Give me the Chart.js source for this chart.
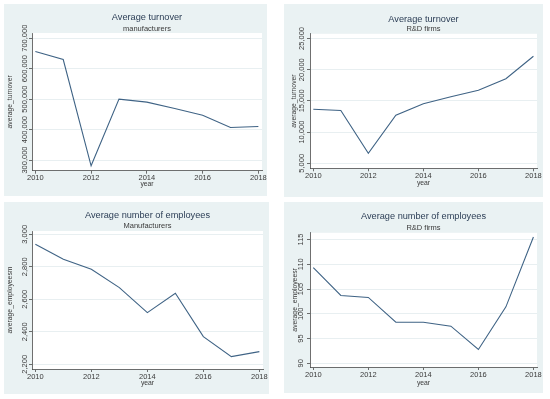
<!DOCTYPE html>
<html>
<head>
<meta charset="utf-8">
<script src="https://cdn.jsdelivr.net/npm/chart.js@4/dist/chart.umd.min.js"></script>
<style>
  body { margin: 0; background: #fff; }
  .panel { position: absolute; background: #eaf2f3; }
  .panel canvas { display: block; }
</style>
</head>
<body>
<div class="panel" id="panel1"><canvas id="turnoverManufChart"></canvas></div>
<div class="panel" id="panel2"><canvas id="turnoverRDChart"></canvas></div>
<div class="panel" id="panel3"><canvas id="employeesManufChart"></canvas></div>
<div class="panel" id="panel4"><canvas id="employeesRDChart"></canvas></div>
<script>
// ---------------------------------------------- DATA
const years = [2010, 2011, 2012, 2013, 2014, 2015, 2016, 2017, 2018]
const yearTicks = [2010, 2012, 2014, 2016, 2018]

const turnoverManuf = [656000, 630000, 281000, 500000, 490000, 469000, 447000, 407000, 410000]
const turnoverManufTicks = [300000, 400000, 500000, 600000, 700000]

const turnoverRD = [13650, 13450, 6600, 12700, 14550, 15650, 16700, 18550, 22150]
const turnoverRDTicks = [5000, 10000, 15000, 20000, 25000]

const employeesManuf = [2938, 2846, 2785, 2672, 2518, 2637, 2370, 2247, 2278]
const employeesManufTicks = [2200, 2400, 2600, 2800, 3000]

const employeesRD = [109.3, 103.7, 103.3, 98.3, 98.3, 97.5, 92.8, 101.4, 115.5]
const employeesRDTicks = [90, 95, 100, 105, 110, 115]

// ---------------------------------------------- PANELS
const panels = [
  { box: 'panel1', canvas: 'turnoverManufChart', left: 4, top: 4, width: 263, height: 192,
    title: 'Average turnover', subtitle: 'manufacturers', yTitle: 'average_turnover',
    values: turnoverManuf, ticks: turnoverManufTicks, min: 265000, max: 717000,
    axisX: 28, padRight: 5, plotTop: 28.7, plotBottom: 166.7, titleY: 13.5, subY: 24.5,
    yTitleX: 6, labelGap: 7, yearY: 180.5 },
  { box: 'panel2', canvas: 'turnoverRDChart', left: 284, top: 4, width: 259, height: 193,
    title: 'Average turnover', subtitle: 'R&D firms', yTitle: 'average_turnover',
    values: turnoverRD, ticks: turnoverRDTicks, min: 4200, max: 25750,
    axisX: 26, padRight: 6, plotTop: 29.5, plotBottom: 164.3, titleY: 15, subY: 25.3,
    yTitleX: 10, labelGap: 8, yearY: 179.3 },
  { box: 'panel3', canvas: 'employeesManufChart', left: 4, top: 202, width: 265, height: 192,
    title: 'Average number of employees', subtitle: 'Manufacturers', yTitle: 'average_employeesm',
    values: employeesManuf, ticks: employeesManufTicks, min: 2171, max: 3020,
    axisX: 28, padRight: 6, plotTop: 29, plotBottom: 167, titleY: 13, subY: 24,
    yTitleX: 6, labelGap: 7, yearY: 180.7 },
  { box: 'panel4', canvas: 'employeesRDChart', left: 284, top: 202, width: 259, height: 191,
    title: 'Average number of employees', subtitle: 'R&D firms', yTitle: 'average_employeesr',
    values: employeesRD, ticks: employeesRDTicks, min: 89.26, max: 116.35,
    axisX: 26, padRight: 6, plotTop: 30.3, plotBottom: 165, titleY: 14.7, subY: 26.3,
    yTitleX: 11, labelGap: 9, yearY: 180.7 }
]

// ---------------------------------------------- STYLE
const fontFamily = '"Liberation Sans", Arial, sans-serif'
const tickFont = 7.5
const axisTitleFont = 6.8
const inkColor = '#3a3a3a'
const axisColor = '#4a4a4a'
const lineColor = '#3f6385'

Chart.defaults.font.family = fontFamily

const measureCtx = document.createElement('canvas').getContext('2d')
measureCtx.font = `${tickFont}px ${fontFamily}`

function formatNumber(v) {
  return v.toLocaleString('en-US')
}

function widestLabel(ticks) {
  return Math.max(...ticks.map(t => measureCtx.measureText(formatNumber(t)).width))
}

// white plot region, like Stata's plotregion
const plotFill = {
  id: 'plotFill',
  beforeDraw(chart) {
    const { ctx, chartArea } = chart
    ctx.save()
    ctx.fillStyle = '#ffffff'
    ctx.fillRect(chartArea.left, chartArea.top, chartArea.right - chartArea.left, chartArea.bottom - chartArea.top)
    ctx.restore()
  }
}

// ---------------------------------------------- CHARTS
panels.forEach(p => {
  const box = document.getElementById(p.box)
  box.style.left = p.left + 'px'
  box.style.top = p.top + 'px'
  box.style.width = p.width + 'px'
  box.style.height = p.height + 'px'

  const canvas = document.getElementById(p.canvas)
  canvas.width = p.width
  canvas.height = p.height

  const titleLine = 9.2 * 1.2
  const subLine = tickFont * 1.2
  const titlePadTop = p.titleY - titleLine / 2
  const subPadTop = p.subY - subLine / 2 - (titlePadTop + titleLine)
  const subPadBottom = p.plotTop - (p.subY + subLine / 2)
  const axisTitleLine = axisTitleFont * 1.2
  const halfWidest = widestLabel(p.ticks) / 2

  new Chart(canvas, {
    type: 'line',
    data: {
      datasets: [{
        data: years.map((year, i) => ({ x: year, y: p.values[i] })),
        borderColor: lineColor,
        borderWidth: 1.1,
        pointRadius: 0,
        tension: 0,
        fill: false
      }]
    },
    options: {
      responsive: false,
      animation: false,
      devicePixelRatio: 1,
      layout: { autoPadding: false, padding: { left: 0, top: 0, right: p.padRight, bottom: 0 } },
      plugins: {
        legend: { display: false },
        tooltip: { enabled: false },
        title: {
          display: true,
          text: p.title,
          fullSize: false,
          color: '#2b3d55',
          font: { size: 9.2, weight: 'normal' },
          padding: { top: titlePadTop, bottom: 0 }
        },
        subtitle: {
          display: true,
          text: p.subtitle,
          fullSize: false,
          color: inkColor,
          font: { size: tickFont, weight: 'normal' },
          padding: { top: Math.max(subPadTop, 0), bottom: Math.max(subPadBottom, 0) }
        }
      },
      scales: {
        x: {
          type: 'linear',
          min: 2009.88,
          max: 2018.13,
          afterBuildTicks: scale => { scale.ticks = yearTicks.map(v => ({ value: v })) },
          afterFit: scale => {
            scale.height = p.height - p.plotBottom
            scale.paddingLeft = 0
            scale.paddingRight = 0
          },
          ticks: {
            autoSkip: false,
            maxRotation: 0,
            padding: 0,
            color: inkColor,
            font: { size: tickFont },
            callback: v => String(v)
          },
          grid: { drawOnChartArea: false, tickLength: 3, tickColor: axisColor, tickWidth: 0.8 },
          border: { color: axisColor, width: 0.8 },
          title: {
            display: true,
            text: 'year',
            color: inkColor,
            font: { size: axisTitleFont },
            padding: { top: 0, bottom: p.height - p.yearY - axisTitleLine / 2 }
          }
        },
        y: {
          min: p.min,
          max: p.max,
          afterBuildTicks: scale => { scale.ticks = p.ticks.map(v => ({ value: v })) },
          afterFit: scale => {
            scale.width = p.axisX
            scale.paddingTop = 0
            scale.paddingBottom = 0
          },
          ticks: {
            autoSkip: false,
            minRotation: 90,
            maxRotation: 90,
            crossAlign: 'center',
            padding: p.labelGap - 3 - halfWidest,
            color: inkColor,
            font: { size: tickFont },
            callback: v => formatNumber(v)
          },
          grid: { color: '#e8eff1', lineWidth: 1, tickLength: 3, tickColor: axisColor, tickWidth: 0.8 },
          border: { color: axisColor, width: 0.8 },
          title: {
            display: true,
            text: p.yTitle,
            color: inkColor,
            font: { size: axisTitleFont },
            padding: { top: p.yTitleX - axisTitleLine / 2, bottom: 0 }
          }
        }
      }
    },
    plugins: [plotFill]
  })
})
</script>
</body>
</html>
